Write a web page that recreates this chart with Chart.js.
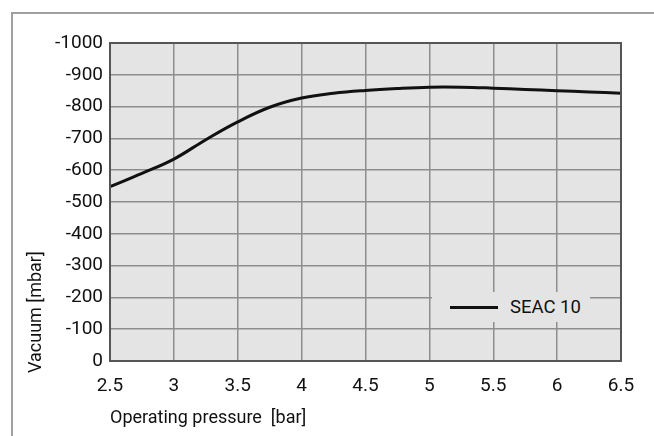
<!DOCTYPE html>
<html>
<head>
<meta charset="utf-8">
<script src="https://cdn.jsdelivr.net/npm/chart.js@4"></script>
<style>
  html, body { margin: 0; padding: 0; background: #fff; }
  #wrap { position: relative; width: 654px; height: 436px; }
  #frame { position: absolute; left: 11px; top: 12px; right: 0; bottom: 0;
           border-top: 2px solid #a0a0a0; border-left: 2px solid #a0a0a0; }
  #chart { position: absolute; left: 0; top: 0; }
  #legend { position: absolute; left: 432px; top: 292px; width: 158px; height: 30px;
            background: #e4e4e4; font: 18.5px Roboto; color: #111;
            display: flex; align-items: center; }
  #legend .swatch { width: 48px; height: 3px; background: #111; margin-left: 18px; margin-right: 12px; }
</style>
</head>
<body>
<div id="wrap">
  <div id="frame"></div>
  <canvas id="chart" width="654" height="436"></canvas>
  <div id="legend"></div>
</div>
<script>
// operating pressure [bar]
var pressure = [2.5, 2.75, 3, 3.25, 3.5, 3.75, 4, 4.25, 4.5, 4.75, 5, 5.25, 5.5, 5.75, 6, 6.25, 6.5];
// vacuum [mbar]
var vacuum = [-548, -590, -635, -696, -752, -798, -827, -842, -851, -857, -861, -861, -858, -854, -850, -846, -842];
var seriesName = 'SEAC 10';
var xTicks = [2.5, 3, 3.5, 4, 4.5, 5, 5.5, 6, 6.5];
var yTicks = [-1000, -900, -800, -700, -600, -500, -400, -300, -200, -100, 0];
var xTitle = 'Operating pressure  [bar]';
var yTitle = 'Vacuum [mbar]';

var points = pressure.map(function (p, i) { return { x: p, y: vacuum[i] }; });

var tickFont = { family: 'Roboto', size: 19 };
var titleFont = { family: 'Roboto', size: 18 };
var textColor = '#111';

// grey plot background, dark frame round the plot, rotated y title
// (the y axis is reversed, which flips chart.js' own title alignment)
const plotBox = {
  id: 'plotBox',
  beforeDraw(chart) {
    const a = chart.chartArea, ctx = chart.ctx;
    ctx.save();
    ctx.fillStyle = '#e4e4e4';
    ctx.fillRect(a.left, a.top, a.right - a.left, a.bottom - a.top);
    ctx.restore();
  },
  afterDraw(chart) {
    const a = chart.chartArea, ctx = chart.ctx;
    ctx.save();
    ctx.strokeStyle = '#555';
    ctx.lineWidth = 2;
    ctx.strokeRect(a.left, a.top, a.right - a.left, a.bottom - a.top);
    ctx.translate(36, a.bottom + 12);
    ctx.rotate(-Math.PI / 2);
    ctx.font = titleFont.size + 'px ' + titleFont.family;
    ctx.fillStyle = textColor;
    ctx.textAlign = 'left';
    ctx.textBaseline = 'middle';
    ctx.fillText(yTitle, 0, 0);
    ctx.restore();
  }
};

const ctx = document.getElementById('chart');
new Chart(ctx, {
  type: 'line',
  data: {
    datasets: [{
      label: seriesName,
      data: points,
      borderColor: '#111',
      borderWidth: 3,
      pointRadius: 0,
      tension: 0.4,
      fill: false
    }]
  },
  options: {
    responsive: false,
    animation: false,
    layout: { padding: { left: 14, top: 43, right: 33, bottom: 0 } },
    plugins: { legend: { display: false }, tooltip: { enabled: false } },
    scales: {
      x: {
        type: 'linear',
        min: 2.5,
        max: 6.5,
        afterBuildTicks: function (s) { s.ticks = xTicks.map(function (v) { return { value: v }; }); },
        afterFit: function (s) { s.height = 75; },
        ticks: { font: tickFont, color: textColor, padding: 14, callback: function (v) { return String(v); } },
        grid: { color: '#8e8e8e', lineWidth: 1.5, drawTicks: false },
        border: { display: false },
        title: { display: true, text: xTitle, align: 'start', color: textColor,
                 font: titleFont, padding: { top: 0, bottom: 7 } }
      },
      y: {
        min: -1000,
        max: 0,
        reverse: true,
        afterBuildTicks: function (s) { s.ticks = yTicks.map(function (v) { return { value: v }; }); },
        afterFit: function (s) { s.width = 96; },
        ticks: { font: tickFont, color: textColor, padding: 7, callback: function (v) { return String(v); } },
        grid: { color: '#8e8e8e', lineWidth: 1.5, drawTicks: false },
        border: { display: false }
      }
    }
  },
  plugins: [plotBox]
});

document.getElementById('legend').innerHTML = '<span class="swatch"></span><span>' + seriesName + '</span>';
</script>
</body>
</html>
